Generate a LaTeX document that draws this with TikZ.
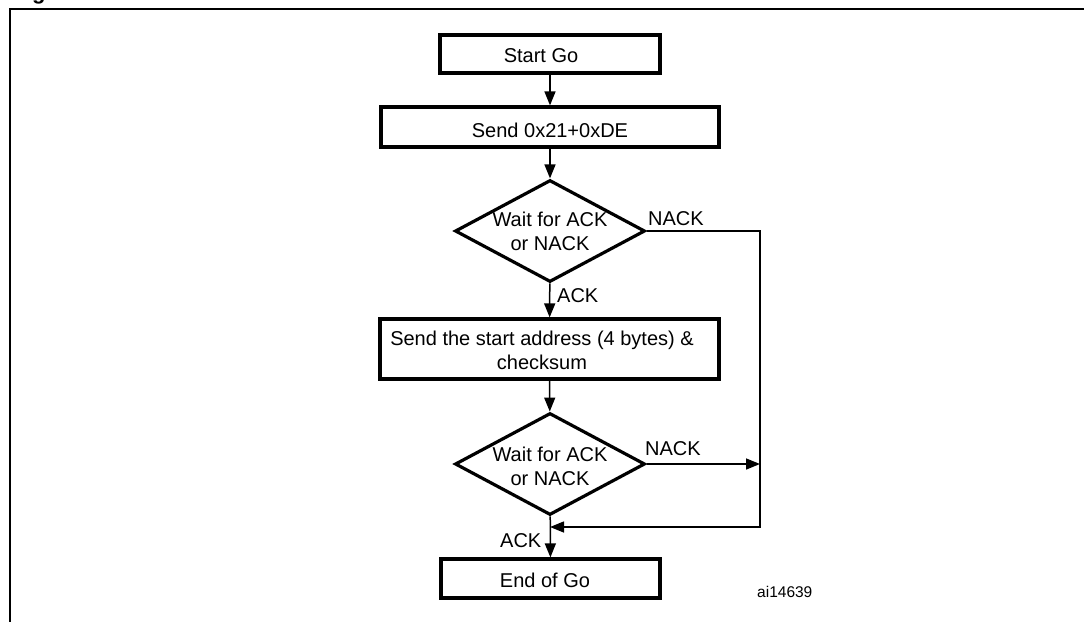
\documentclass[tikz,border=0pt]{standalone}
\usepackage{fontspec}
\setmainfont{Liberation Sans}
\usetikzlibrary{shapes.geometric,arrows.meta}
\begin{document}
\begin{tikzpicture}[x=1pt,y=-1pt,
  every node/.style={font=\fontsize{20}{24}\selectfont},
  box/.style={draw,line width=3.2pt,inner sep=0pt,fill=white},
  dia/.style={draw,shape=diamond,line width=3.2pt,inner sep=0pt,minimum width=190pt,minimum height=102pt},
  txt/.style={inner sep=0pt},
  lbl/.style={inner sep=0pt,anchor=base west},
  link/.style={draw,line width=1.5pt},
  arr/.style={link,-{Triangle[length=14pt,width=11pt]}},
  frame/.style={line width=2pt}
]
\useasboundingbox (0,0) rectangle (1084,621);
% outer frame (partly outside the page)
\draw[frame] (10,640) -- (10,9) -- (1100,9);
\node[txt,font=\fontsize{22}{26}\selectfont\bfseries,anchor=base west] (cap) at (32,-0.5) {g};

% boxes
\node[box,minimum width=220pt,minimum height=38pt] (start) at (550,54) {};
\node[box,minimum width=338pt,minimum height=40pt] (send) at (550,127) {};
\node[dia] (d1) at (550,231) {};
\node[box,minimum width=339pt,minimum height=60pt] (addr) at (549.5,349) {};
\node[dia] (d2) at (550,464) {};
\node[box,minimum width=219pt,minimum height=39pt] (endgo) at (550.5,578.5) {};

% texts
\node[txt,anchor=base] (tstart) at (541,62) {Start Go};
\node[txt,anchor=base] (tsend) at (550,137) {Send 0x21+0xDE};
\node[txt,align=center] (td1) at (550,231.5) {Wait for ACK\\or NACK};
\node[txt,align=center] (taddr) at (542,350) {Send the start address (4 bytes) \&\\checksum};
\node[txt,align=center] (td2) at (550,466.5) {Wait for ACK\\or NACK};
\node[txt,anchor=base] (tend) at (545,587) {End of Go};

% helper coordinates
\coordinate (c1) at (760,231);
\coordinate (c2) at (760,527);
\coordinate (m) at (550,527);
\coordinate (c3) at (760,464);

% connectors
\draw[arr] (start) -- (send);
\draw[arr] (send) -- (d1);
\draw[arr] (d1) -- (addr);
\draw[arr] (addr) -- (d2);
\draw[arr] (d2) -- (endgo);
\draw[arr] (d1.east) -- (c1) -- (c2) -- (m);
\draw[arr] (d2.east) -- (c3);

% labels
\node[lbl] (nack1) at (648,225) {NACK};
\node[lbl] (ack1) at (557,302) {ACK};
\node[lbl] (nack2) at (645,455) {NACK};
\node[lbl] (ack2) at (500,547) {ACK};
\node[lbl,font=\fontsize{15.5}{18}\selectfont] (id) at (757,597) {ai14639};
\end{tikzpicture}
\end{document}
